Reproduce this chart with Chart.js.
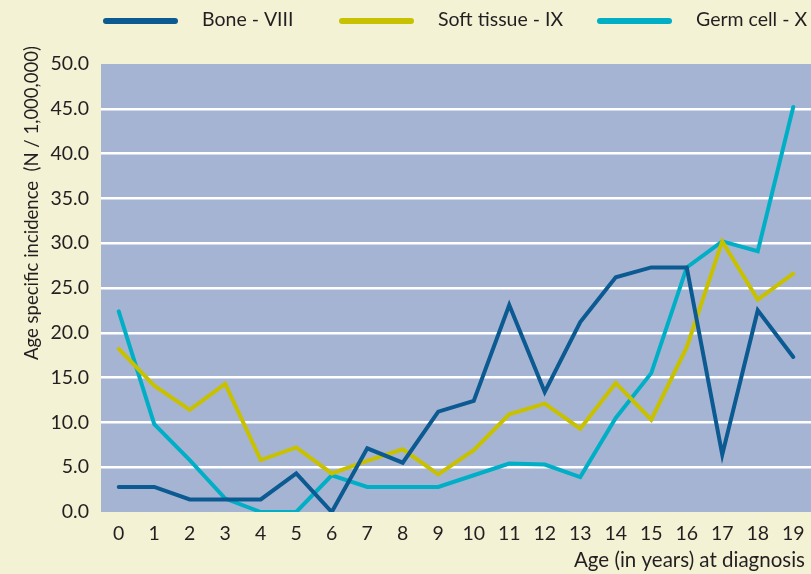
<!DOCTYPE html>
<html>
<head>
<meta charset="utf-8">
<script src="https://cdn.jsdelivr.net/npm/chart.js@4/dist/chart.umd.min.js"></script>
<style>
  html, body { margin: 0; padding: 0; background: #f3f2d5; }
  #wrap { width: 811px; height: 574px; position: relative; }
</style>
</head>
<body>
<div id="wrap"><canvas id="incidenceChart"></canvas></div>
<script>
const ages = ['0','1','2','3','4','5','6','7','8','9','10','11','12','13','14','15','16','17','18','19'];
const bone = [2.8, 2.8, 1.4, 1.4, 1.4, 4.3, 0.0, 7.1, 5.5, 11.2, 12.4, 23.1, 13.4, 21.2, 26.2, 27.3, 27.3, 6.4, 22.5, 17.3];
const softTissue = [18.2, 14.1, 11.4, 14.3, 5.8, 7.2, 4.3, 5.7, 7.0, 4.2, 6.9, 10.9, 12.1, 9.3, 14.4, 10.3, 18.4, 30.2, 23.7, 26.6];
const germCell = [22.4, 9.8, 5.8, 1.5, 0.0, 0.0, 4.1, 2.8, 2.8, 2.8, 4.1, 5.4, 5.3, 3.9, 10.5, 15.5, 27.3, 30.2, 29.1, 45.2];
const seriesNames = ['Bone - VIII', 'Soft tissue - IX', 'Germ cell - X'];
const seriesColors = ['#0b5a91', '#c8c100', '#00afc6'];

const FONT = 'Lato, "Open Sans", sans-serif';
const TEXT = '#231f20';

// plot background + custom legend and axis titles
const decorations = {
    id: 'decorations',
    beforeDraw(chart) {
        const { ctx, chartArea: a } = chart;
        ctx.save();
        ctx.fillStyle = '#a6b4d3';
        ctx.fillRect(a.left, a.top, a.right - a.left, a.bottom - a.top);
        ctx.restore();
    },
    afterDraw(chart) {
        const ctx = chart.ctx;
        ctx.save();
        // legend
        const starts = [103, 339, 597];
        ctx.font = '19.5px ' + FONT;
        ctx.textBaseline = 'middle';
        ctx.textAlign = 'left';
        seriesNames.forEach((name, i) => {
            const x = starts[i];
            ctx.strokeStyle = seriesColors[i];
            ctx.lineWidth = 6;
            ctx.lineCap = 'round';
            ctx.beginPath();
            ctx.moveTo(x + 3, 21);
            ctx.lineTo(x + 72, 21);
            ctx.stroke();
            ctx.fillStyle = TEXT;
            ctx.fillText(name, x + 99, 20);
        });
        // y title
        ctx.translate(32, 203);
        ctx.rotate(-Math.PI / 2);
        ctx.textAlign = 'center';
        ctx.font = '18.5px ' + FONT;
        ctx.fillText('Age specific incidence  (N / 1,000,000)', 0, 0);
        ctx.restore();
        ctx.save();
        ctx.font = '20.5px ' + FONT;
        ctx.fillStyle = TEXT;
        ctx.textAlign = 'right';
        ctx.textBaseline = 'middle';
        ctx.fillText('Age (in years) at diagnosis', 805, 560);
        ctx.restore();
    }
};

const datasets = [bone, softTissue, germCell].map((values, i) => ({
    label: seriesNames[i],
    data: values,
    borderColor: seriesColors[i],
    backgroundColor: seriesColors[i],
    borderWidth: 4,
    pointRadius: 0,
    tension: 0,
    borderCapStyle: 'round',
    borderJoinStyle: 'miter'
}));

new Chart(document.getElementById('incidenceChart'), {
    type: 'line',
    data: { labels: ages, datasets: datasets },
    options: {
        responsive: true,
        maintainAspectRatio: false,
        animation: false,
        layout: { padding: { top: 64, right: 0, left: 0, bottom: 0 } },
        plugins: {
            legend: { display: false },
            tooltip: { enabled: false }
        },
        scales: {
            x: {
                offset: true,
                grid: { display: false },
                border: { display: false },
                ticks: { color: TEXT, font: { family: FONT, size: 19.5 }, padding: 2, maxRotation: 0 },
                afterFit(scale) { scale.height = 62; }
            },
            y: {
                min: 0,
                max: 50,
                border: { display: false },
                grid: {
                    color: ctx => (ctx.tick.value === 0 || ctx.tick.value === 50) ? 'rgba(0,0,0,0)' : '#ffffff',
                    lineWidth: 2.5,
                    drawTicks: false
                },
                ticks: {
                    stepSize: 5,
                    color: TEXT,
                    padding: 12,
                    font: { family: FONT, size: 19.5 },
                    callback: v => v.toFixed(1)
                },
                afterFit(scale) { scale.width = 101; }
            }
        }
    },
    plugins: [decorations]
});
</script>
</body>
</html>
